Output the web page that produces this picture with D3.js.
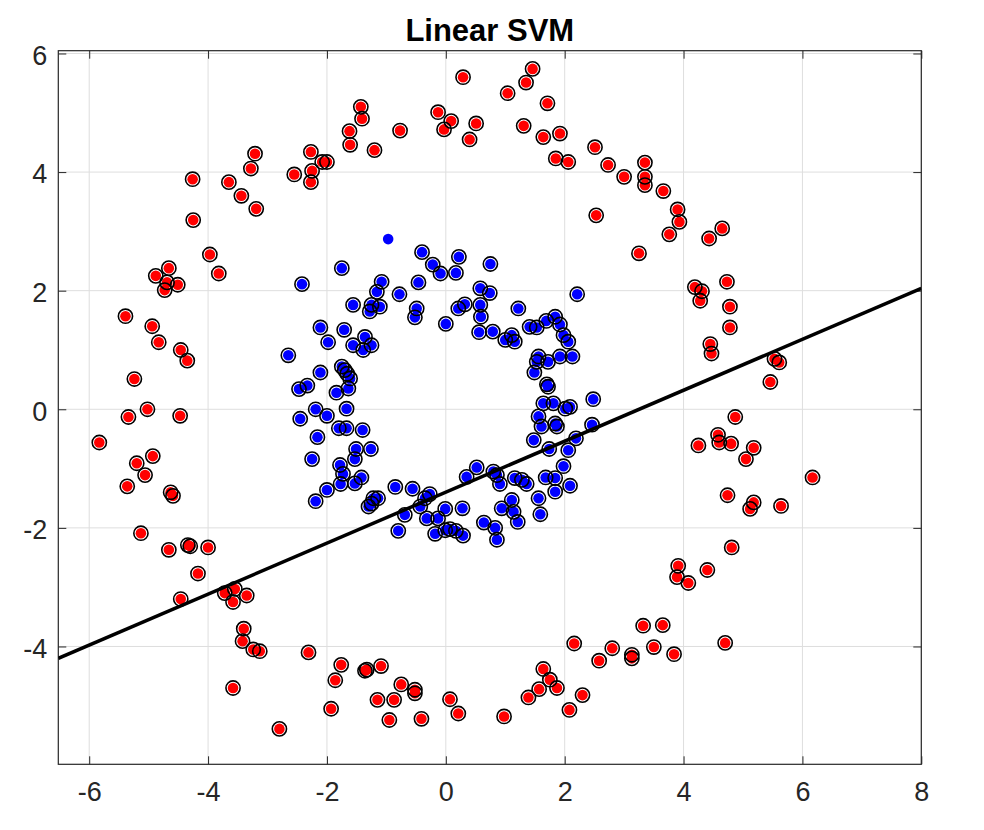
<!DOCTYPE html>
<html>
<head>
<meta charset="utf-8">
<script src="https://cdn.jsdelivr.net/npm/d3@7"></script>
<style>
  body { margin: 0; background: #fff; }
  svg text { font-family: "Liberation Sans", Arial, Helvetica, sans-serif; }
</style>
</head>
<body>
<svg id="chart" width="984" height="830"></svg>
<script>
// Classe "rouge" (anneau extérieur)
const redPoints = [
  [-4.26,3.88],[-3.21,4.31],[-3.28,4.06],[-3.65,3.83],[-3.44,3.60],[-3.19,3.38],[-4.25,3.19],[-3.97,2.61],
  [-3.82,2.29],[-4.66,2.38],[-4.88,2.25],[-4.69,2.14],[-4.51,2.10],[-4.73,2.01],[-2.55,3.96],[-2.27,4.34],
  [-2.25,4.02],[-2.27,3.83],[-2.08,4.17],[-2.00,4.17],[-1.43,5.10],[-1.41,4.90],[-1.62,4.69],[-1.61,4.46],
  [-1.20,4.37],[-0.77,4.70],[-0.13,5.01],[0.09,4.86],[-0.03,4.72],[0.51,4.82],[0.40,4.55],[0.29,5.60],
  [1.46,5.74],[1.35,5.51],[1.04,5.33],[1.71,5.16],[1.31,4.78],[1.64,4.59],[1.92,4.65],[1.85,4.23],
  [2.06,4.17],[2.51,4.42],[2.73,4.12],[3.00,3.92],[2.53,3.27],[3.25,2.63],[3.35,4.16],[3.35,3.92],
  [3.35,3.78],[3.66,3.68],[3.90,3.37],[3.93,3.16],[3.76,2.95],[4.65,3.05],[4.43,2.88],[4.73,2.15],
  [4.19,2.06],[4.31,1.99],[4.28,1.83],[4.78,1.73],[4.78,1.38],[4.45,1.10],[4.47,0.94],[5.53,0.85],
  [5.61,0.79],[5.46,0.46],[4.87,-0.13],[4.58,-0.43],[4.60,-0.56],[4.25,-0.61],[4.80,-0.58],[5.18,-0.65],
  [5.05,-0.84],[6.17,-1.15],[4.74,-1.45],[5.18,-1.57],[5.12,-1.68],[5.64,-1.63],[4.81,-2.33],[3.91,-2.64],
  [3.89,-2.83],[4.08,-2.93],[4.40,-2.71],[3.32,-3.65],[3.65,-3.64],[3.50,-4.01],[3.84,-4.13],[4.70,-3.94],
  [3.13,-4.14],[3.13,-4.20],[2.80,-4.03],[2.58,-4.24],[2.16,-3.95],[2.30,-4.82],[2.08,-5.07],[1.64,-4.38],
  [1.75,-4.56],[1.87,-4.70],[1.57,-4.72],[1.39,-4.86],[0.98,-5.18],[0.07,-4.89],[0.21,-5.13],[-0.41,-5.22],
  [-0.95,-5.24],[-1.15,-4.90],[-0.87,-4.90],[-0.75,-4.64],[-0.52,-4.73],[-0.52,-4.79],[-1.09,-4.33],[-1.36,-4.41],
  [-1.33,-4.39],[-1.76,-4.31],[-1.86,-4.57],[-1.93,-5.05],[-2.80,-5.39],[-2.31,-4.10],[-3.58,-4.70],[-3.40,-3.70],
  [-3.42,-3.91],[-3.24,-4.05],[-3.13,-4.08],[-3.72,-3.10],[-3.55,-3.03],[-3.58,-3.25],[-3.35,-3.14],[-4.46,-3.20],
  [-4.17,-2.77],[-5.13,-2.09],[-4.66,-2.37],[-4.34,-2.29],[-4.30,-2.31],[-4.00,-2.33],[-5.39,1.57],[-4.94,1.40],
  [-4.83,1.13],[-4.46,1.00],[-4.35,0.82],[-5.24,0.51],[-5.02,0.00],[-5.34,-0.13],[-4.47,-0.11],[-5.83,-0.56],
  [-4.93,-0.79],[-5.20,-0.91],[-5.06,-1.11],[-5.36,-1.30],[-4.63,-1.40],[-4.59,-1.46]
];

// Classe "bleue" (anneau intérieur)
const bluePoints = [
  [-0.40,2.65],[-0.22,2.44],[-0.09,2.29],[0.22,2.57],[0.17,2.30],[0.75,2.45],[-0.46,2.14],[-1.08,2.15],
  [-1.16,1.98],[-0.78,1.94],[0.58,2.04],[0.74,1.96],[2.21,1.94],[-1.75,2.38],[-2.42,2.11],[-2.65,0.91],
  [-2.11,1.38],[-1.98,1.13],[-1.71,1.34],[-1.56,1.76],[-1.56,1.08],[-1.36,1.22],[-1.25,1.08],[-1.39,1.00],
  [-1.25,1.76],[-1.11,1.73],[-1.28,1.65],[-0.49,1.70],[-0.52,1.55],[0.00,1.44],[0.21,1.70],[0.32,1.77],
  [0.58,1.76],[0.59,1.56],[1.22,1.70],[0.56,1.30],[0.79,1.31],[1.00,1.17],[1.11,1.25],[1.16,1.14],
  [1.41,1.39],[1.53,1.38],[1.69,1.49],[1.84,1.56],[1.92,1.43],[1.98,1.25],[2.06,1.14],[1.56,0.89],
  [1.53,0.80],[1.72,0.80],[1.92,0.89],[2.13,0.89],[1.49,0.62],[1.70,0.42],[1.72,0.38],[1.64,0.10],
  [1.81,0.10],[2.09,0.04],[2.01,0.01],[2.48,0.17],[1.56,-0.12],[1.61,-0.29],[1.84,-0.24],[1.87,-0.29],
  [2.46,-0.26],[1.48,-0.52],[1.74,-0.67],[2.06,-0.69],[2.19,-0.49],[1.98,-0.96],[1.68,-1.15],[1.84,-1.16],
  [2.09,-1.29],[1.84,-1.39],[1.56,-1.50],[1.59,-1.77],[0.52,-0.98],[0.35,-1.14],[0.80,-1.05],[0.86,-1.11],
  [0.91,-1.26],[1.16,-1.16],[1.28,-1.19],[1.36,-1.26],[1.11,-1.53],[0.94,-1.67],[1.14,-1.73],[1.21,-1.90],
  [0.64,-1.91],[0.83,-2.00],[0.86,-2.20],[0.28,-1.67],[-0.01,-1.68],[-0.13,-1.84],[-0.18,-2.10],[-0.01,-2.04],
  [0.07,-2.02],[0.17,-2.05],[0.29,-2.13],[-0.32,-1.84],[-0.43,-1.64],[-0.35,-1.50],[-0.27,-1.43],[-0.56,-1.34],
  [-0.85,-1.31],[-0.69,-1.78],[-0.80,-2.05],[-1.22,-1.50],[-1.25,-1.59],[-1.30,-1.64],[-1.14,-1.50],[-1.75,0.72],
  [-1.70,0.66],[-1.66,0.60],[-1.61,0.52],[-1.64,0.35],[-2.11,0.62],[-2.47,0.34],[-2.33,0.40],[-1.84,0.28],
  [-2.19,0.00],[-2.45,-0.16],[-2.00,-0.11],[-1.67,0.01],[-1.80,-0.32],[-1.67,-0.32],[-1.40,-0.35],[-1.51,-0.67],
  [-1.53,-0.84],[-1.26,-0.67],[-2.16,-0.47],[-2.25,-0.84],[-1.78,-0.94],[-1.73,-1.09],[-1.77,-1.26],[-1.53,-1.25],
  [-1.42,-1.15],[-2.00,-1.36],[-2.19,-1.55]
];

// Le seul point qui n'est pas un vecteur de support
const plainBlue = [[-0.97, 2.87]];

// Frontière de décision (deux points aux bords de l'axe)
const boundaryX = [-6.52, 8.0];
const boundaryY = [-4.20, 2.04];

const xTicks = [-6, -4, -2, 0, 2, 4, 6, 8];
const yTicks = [-4, -2, 0, 2, 4, 6];
const xDomain = [-6.52, 8.0];
const yDomain = [-5.987, 6.047];

const mLeft = 58.3, mRight = 921.3, mTop = 50.7, mBottom = 764.3;
const ink = "#262626";

const svg = d3.select("#chart");
const x = d3.scaleLinear().domain(xDomain).range([mLeft, mRight]);
const y = d3.scaleLinear().domain(yDomain).range([mBottom, mTop]);

// Grille
svg.append("g")
  .selectAll("line")
  .data(xTicks)
  .join("line")
  .attr("x1", d => x(d)).attr("x2", d => x(d))
  .attr("y1", mTop).attr("y2", mBottom)
  .attr("stroke", "#dedede").attr("stroke-width", 1);
svg.append("g")
  .selectAll("line")
  .data(yTicks)
  .join("line")
  .attr("x1", mLeft).attr("x2", mRight)
  .attr("y1", d => y(d)).attr("y2", d => y(d))
  .attr("stroke", "#dedede").attr("stroke-width", 1);

// Axes (graduations vers l'intérieur)
const fmt = d => String(d);
const styleAxis = g => {
  g.select(".domain").remove();
  g.selectAll(".tick line").attr("stroke", ink).attr("stroke-width", 1);
  g.selectAll(".tick text").attr("fill", ink).attr("font-size", 27);
};
svg.append("g")
  .attr("transform", `translate(0,${mBottom})`)
  .call(d3.axisBottom(x).tickValues(xTicks).tickFormat(fmt).tickSizeInner(-8).tickSizeOuter(0).tickPadding(18))
  .call(styleAxis);
svg.append("g")
  .attr("transform", `translate(0,${mTop})`)
  .call(d3.axisTop(x).tickValues(xTicks).tickFormat("").tickSizeInner(-8).tickSizeOuter(0))
  .call(styleAxis);
svg.append("g")
  .attr("transform", `translate(${mLeft},0)`)
  .call(d3.axisLeft(y).tickValues(yTicks).tickFormat(fmt).tickSizeInner(-8).tickSizeOuter(0).tickPadding(11))
  .call(styleAxis)
  .call(g => g.selectAll(".tick text").attr("dy", "0.4em"));
svg.append("g")
  .attr("transform", `translate(${mRight},0)`)
  .call(d3.axisRight(y).tickValues(yTicks).tickFormat("").tickSizeInner(-8).tickSizeOuter(0))
  .call(styleAxis);

svg.append("rect")
  .attr("x", mLeft).attr("y", mTop)
  .attr("width", mRight - mLeft).attr("height", mBottom - mTop)
  .attr("fill", "none").attr("stroke", ink).attr("stroke-width", 1.2);

svg.append("clipPath").attr("id", "plot")
  .append("rect")
  .attr("x", mLeft).attr("y", mTop)
  .attr("width", mRight - mLeft).attr("height", mBottom - mTop);

const plot = svg.append("g").attr("clip-path", "url(#plot)");

// Points colorés
plot.append("g")
  .selectAll("circle")
  .data(redPoints)
  .join("circle")
  .attr("cx", d => x(d[0])).attr("cy", d => y(d[1]))
  .attr("r", 5.3).attr("fill", "#ff0000");
plot.append("g")
  .selectAll("circle")
  .data(bluePoints.concat(plainBlue))
  .join("circle")
  .attr("cx", d => x(d[0])).attr("cy", d => y(d[1]))
  .attr("r", 5.3).attr("fill", "#0000ff");

// Vecteurs de support
plot.append("g")
  .selectAll("circle")
  .data(redPoints.concat(bluePoints))
  .join("circle")
  .attr("cx", d => x(d[0])).attr("cy", d => y(d[1]))
  .attr("r", 7.1).attr("fill", "none")
  .attr("stroke", "#000").attr("stroke-width", 1.6);

// Frontière
plot.append("path")
  .datum(d3.zip(boundaryX, boundaryY))
  .attr("d", d3.line().x(d => x(d[0])).y(d => y(d[1])))
  .attr("stroke", "#000").attr("stroke-width", 3.5).attr("fill", "none");

// Titre
svg.append("text")
  .attr("x", (mLeft + mRight) / 2).attr("y", 41)
  .attr("text-anchor", "middle")
  .attr("font-size", 31).attr("font-weight", "bold")
  .attr("fill", "#000")
  .text("Linear SVM");
</script>
</body>
</html>
